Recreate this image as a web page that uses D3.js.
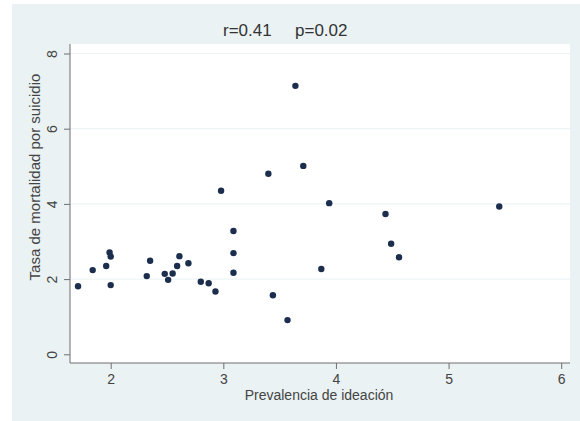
<!DOCTYPE html>
<html>
<head>
<meta charset="utf-8">
<script src="https://cdn.jsdelivr.net/npm/d3@7"></script>
<style>
  body { margin: 0; background: #fff; }
  svg { display: block; font-family: "Liberation Sans", Arial, sans-serif; }
</style>
</head>
<body>
<svg></svg>
<script>
let width = 580;
let height = 421;

// prevalencia de ideacion (x) vs tasa de mortalidad por suicidio (y)
let ideacion = [1.71, 1.84, 1.96, 1.99, 2.0, 2.0, 2.32, 2.35, 2.48, 2.51, 2.55, 2.59, 2.61, 2.69,
  2.80, 2.87, 2.93, 2.98, 3.09, 3.09, 3.09, 3.40, 3.44, 3.57, 3.64, 3.71, 3.87, 3.94, 4.44, 4.49, 4.56, 5.45];
let mortalidad = [1.81, 2.24, 2.35, 2.71, 2.60, 1.84, 2.08, 2.49, 2.14, 1.98, 2.15, 2.35, 2.61, 2.42,
  1.93, 1.89, 1.67, 4.35, 3.28, 2.69, 2.17, 4.80, 1.57, 0.91, 7.14, 5.01, 2.27, 4.02, 3.73, 2.94, 2.58, 3.93];
let xTicks = [2, 3, 4, 5, 6];
let yTicks = [0, 2, 4, 6, 8];
let tituloR = "r=0.41";
let tituloP = "p=0.02";

let svg = d3.select('svg').attr('width', width).attr('height', height);

// fondo
svg.append('rect').attr('x', 12).attr('y', 4).attr('width', width - 12).attr('height', height - 4)
  .attr('fill', '#eaf2f3');
svg.append('rect').attr('x', 70).attr('y', 44).attr('width', 500).attr('height', 319)
  .attr('fill', '#ffffff');

let xScale = d3.scaleLinear().domain([2, 6]).range([110.7, 561.2]);
let yScale = d3.scaleLinear().domain([0, 8]).range([354.3, 53.5]);

// lineas de rejilla
svg.append('g').selectAll('line').data(yTicks.filter(d => d > 0)).join('line')
  .attr('x1', 70).attr('x2', 570)
  .attr('y1', d => yScale(d)).attr('y2', d => yScale(d))
  .attr('stroke', '#eaf2f3').attr('stroke-width', 1);

// eje x
let xAxis = d3.axisBottom(xScale).tickValues(xTicks).tickSize(6).tickPadding(5).tickFormat(d3.format('d'));
let gx = svg.append('g')
  .attr('transform', 'translate(0,363)')
  .call(xAxis);
gx.select('.domain').attr('d', 'M70,0H570');

// eje y (etiquetas giradas)
let yAxis = d3.axisLeft(yScale).tickValues(yTicks).tickSize(6).tickFormat(d3.format('d'));
let gy = svg.append('g')
  .attr('transform', 'translate(70,0)')
  .call(yAxis);
gy.select('.domain').attr('d', 'M0,44V363');
gy.selectAll('.tick text')
  .attr('x', 0).attr('y', 0).attr('dy', null)
  .attr('text-anchor', 'middle')
  .attr('transform', 'translate(-13,0) rotate(-90)');

[gx, gy].forEach(g => {
  g.selectAll('.domain').attr('stroke', '#6e6e6e');
  g.selectAll('.tick line').attr('stroke', '#6e6e6e');
  g.selectAll('.tick text').attr('fill', '#444').style('font-size', '14px')
    .style('font-family', '"Liberation Sans", Arial, sans-serif');
});

// puntos
svg.append('g').selectAll('circle').data(ideacion).join('circle')
  .attr('cx', d => xScale(d))
  .attr('cy', (d, i) => yScale(mortalidad[i]))
  .attr('r', 3.2)
  .attr('fill', '#1b2e4d');

// titulos
svg.append('text').attr('x', 223).attr('y', 36)
  .attr('fill', '#333').style('font-size', '17px').text(tituloR);
svg.append('text').attr('x', 295).attr('y', 36)
  .attr('fill', '#333').style('font-size', '17px').text(tituloP);
svg.append('text').attr('x', 319).attr('y', 400).attr('text-anchor', 'middle')
  .attr('fill', '#444').style('font-size', '14px')
  .text('Prevalencia de ideación');
svg.append('text').attr('transform', 'translate(40,177) rotate(-90)').attr('text-anchor', 'middle')
  .attr('fill', '#444').style('font-size', '15px')
  .text('Tasa de mortalidad por suicidio');
</script>
</body>
</html>
